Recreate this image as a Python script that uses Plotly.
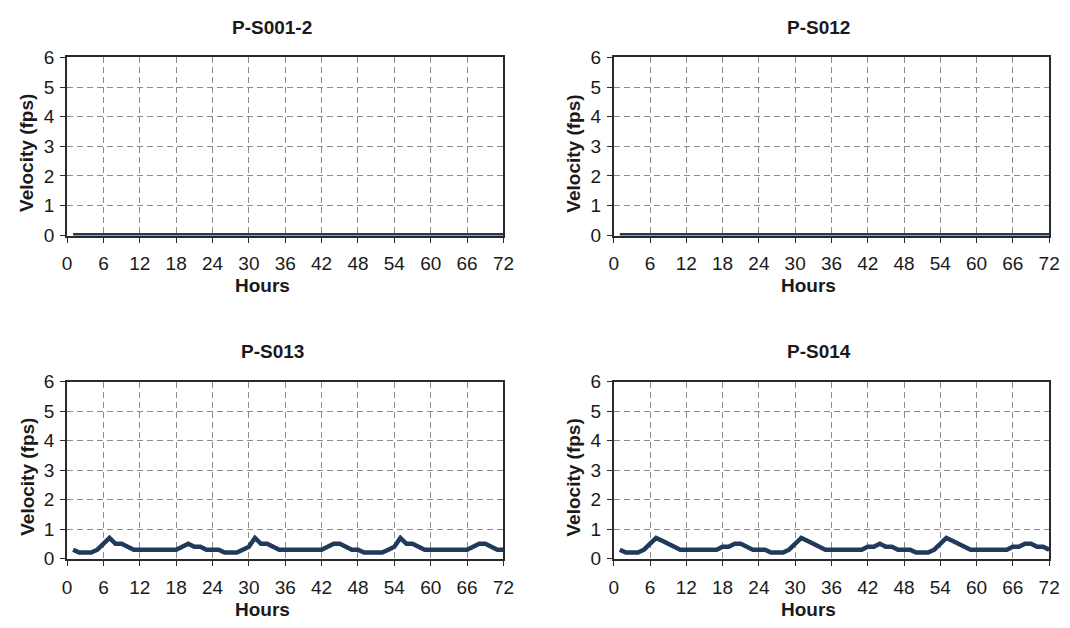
import plotly.graph_objects as go

# Hourly velocity readings (fps) over a 72-hour period
hours = list(range(1, 73))

vel_ps001_2 = [0.0] * 72
vel_ps012 = [0.0] * 72

vel_ps013 = [
    0.3, 0.2, 0.2, 0.2, 0.3, 0.5, 0.7, 0.5, 0.5, 0.4, 0.3, 0.3,
    0.3, 0.3, 0.3, 0.3, 0.3, 0.3, 0.4, 0.5, 0.4, 0.4, 0.3, 0.3,
    0.3, 0.2, 0.2, 0.2, 0.3, 0.4, 0.7, 0.5, 0.5, 0.4, 0.3, 0.3,
    0.3, 0.3, 0.3, 0.3, 0.3, 0.3, 0.4, 0.5, 0.5, 0.4, 0.3, 0.3,
    0.2, 0.2, 0.2, 0.2, 0.3, 0.4, 0.7, 0.5, 0.5, 0.4, 0.3, 0.3,
    0.3, 0.3, 0.3, 0.3, 0.3, 0.3, 0.4, 0.5, 0.5, 0.4, 0.3, 0.3,
]

vel_ps014 = [
    0.3, 0.2, 0.2, 0.2, 0.3, 0.5, 0.7, 0.6, 0.5, 0.4, 0.3, 0.3,
    0.3, 0.3, 0.3, 0.3, 0.3, 0.4, 0.4, 0.5, 0.5, 0.4, 0.3, 0.3,
    0.3, 0.2, 0.2, 0.2, 0.3, 0.5, 0.7, 0.6, 0.5, 0.4, 0.3, 0.3,
    0.3, 0.3, 0.3, 0.3, 0.3, 0.4, 0.4, 0.5, 0.4, 0.4, 0.3, 0.3,
    0.3, 0.2, 0.2, 0.2, 0.3, 0.5, 0.7, 0.6, 0.5, 0.4, 0.3, 0.3,
    0.3, 0.3, 0.3, 0.3, 0.3, 0.4, 0.4, 0.5, 0.5, 0.4, 0.4, 0.3,
]

titles = ["P-S001-2", "P-S012", "P-S013", "P-S014"]
series = [vel_ps001_2, vel_ps012, vel_ps013, vel_ps014]

x_ticks = list(range(0, 73, 6))
y_ticks = list(range(0, 7))

W, H = 1070, 628
# panel boxes in pixels: (left, right, top, bottom)
boxes = [
    (63, 506, 49, 233),
    (618, 1060, 49, 233),
    (63, 506, 384, 567),
    (618, 1060, 384, 567),
]

FONT = "Liberation Sans, Arial, sans-serif"
TEXT = "#1a1a1a"
LINE_COLOR = "#213a5c"
FRAME = "#2a2a2a"
GRID = "#8c8c8c"

fig = go.Figure()
layout = dict(
    width=W, height=H,
    margin=dict(l=0, r=0, t=0, b=0),
    paper_bgcolor="white", plot_bgcolor="white",
    showlegend=False,
    font=dict(family=FONT, color=TEXT),
)
annotations = []

for i, (title, vals, box) in enumerate(zip(titles, series, boxes)):
    n = "" if i == 0 else str(i + 1)
    l, r, t, b = box
    xd = [l / W, r / W]
    yd = [(H - b) / H, (H - t) / H]
    fig.add_trace(go.Scatter(
        x=hours, y=vals, mode="lines",
        line=dict(color=LINE_COLOR, width=4.5),
        xaxis="x" + n, yaxis="y" + n,
    ))
    layout["xaxis" + n] = dict(
        domain=xd, anchor="y" + n, range=[0, 72],
        tickvals=x_ticks, ticks="outside", ticklen=5, tickcolor=FRAME,
        tickfont=dict(size=19, family=FONT, color=TEXT),
        ticklabelstandoff=5,
        showgrid=True, gridcolor=GRID, gridwidth=1, griddash="6px,4px",
        showline=True, linecolor=FRAME, linewidth=2, mirror=True,
        zeroline=False,
    )
    layout["yaxis" + n] = dict(
        domain=yd, anchor="x" + n, range=[-0.015, 6],
        tickvals=y_ticks, ticks="outside", ticklen=5, tickcolor=FRAME,
        tickfont=dict(size=19, family=FONT, color=TEXT),
        ticklabelstandoff=2,
        showgrid=True, gridcolor=GRID, gridwidth=1, griddash="6px,4px",
        showline=True, linecolor=FRAME, linewidth=2, mirror=True,
        zeroline=False,
    )
    cx = (l + r) / 2
    # panel title
    annotations.append(dict(
        text="<b>%s</b>" % title, xref="paper", yref="paper",
        x=(cx - 13) / W, y=(H - (t - 31)) / H, showarrow=False,
        xanchor="center", yanchor="middle",
        font=dict(size=19, family=FONT, color=TEXT),
    ))
    # x-axis title
    annotations.append(dict(
        text="<b>Hours</b>", xref="paper", yref="paper",
        x=(cx - 23) / W, y=(H - (b + 52)) / H, showarrow=False,
        xanchor="center", yanchor="middle",
        font=dict(size=19, family=FONT, color=TEXT),
    ))
    # y-axis title
    annotations.append(dict(
        text="<b>Velocity (fps)</b>", xref="paper", yref="paper",
        x=(l - 41) / W, y=(H - (t + b) / 2 - 7) / H, showarrow=False,
        xanchor="center", yanchor="middle", textangle=-90,
        font=dict(size=19, family=FONT, color=TEXT),
    ))

layout["annotations"] = annotations
fig.update_layout(**layout)
fig.write_html("out.html")
